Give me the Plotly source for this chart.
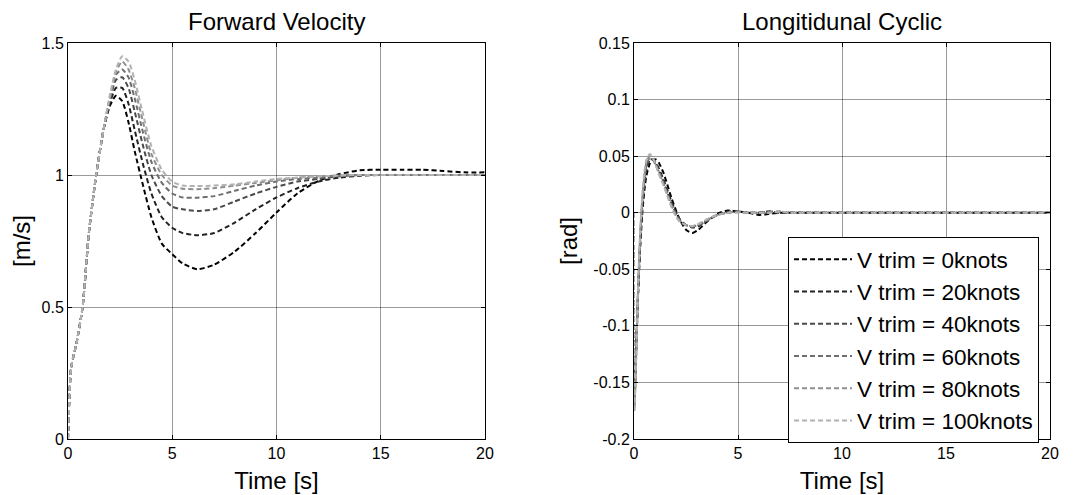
import plotly.graph_objects as go

# ---------------- data ----------------
speeds = ["0", "20", "40", "60", "80", "100"]
legend_names = ["V trim = %sknots" % s for s in speeds]
line_colors = ["#000000", "#222222", "#4a4a4a", "#6e6e6e", "#8f8f8f", "#b2b2b2"]

t_fv = [0, 0.15, 0.4, 0.7, 1.0, 1.35, 1.7, 2.0, 2.3, 2.6, 2.9, 3.2, 3.6, 4.0, 4.5,
        5.0, 5.5, 6.2, 7.0, 8.0, 9.0, 10, 11, 12, 13, 14, 15, 16, 17, 18, 19, 20]
fv_0 = [0, 0.27, 0.36, 0.5, 0.78, 1.0, 1.17, 1.26, 1.30, 1.28, 1.20, 1.09, 0.96, 0.84, 0.74,
        0.70, 0.665, 0.643, 0.66, 0.71, 0.78, 0.858, 0.93, 0.977, 1.003, 1.018, 1.02, 1.02, 1.02, 1.015, 1.01, 1.01]
fv_20 = [0, 0.27, 0.36, 0.5, 0.78, 1.0, 1.17, 1.27, 1.33, 1.33, 1.27, 1.17, 1.04, 0.93, 0.84,
         0.80, 0.78, 0.772, 0.78, 0.82, 0.87, 0.915, 0.95, 0.975, 0.99, 0.997, 1.0, 1.0, 1.0, 1.0, 1.0, 1.0]
fv_40 = [0, 0.27, 0.36, 0.5, 0.78, 1.0, 1.17, 1.28, 1.36, 1.37, 1.33, 1.24, 1.11, 1.0, 0.92,
         0.88, 0.87, 0.864, 0.87, 0.90, 0.93, 0.955, 0.975, 0.985, 0.995, 1.0, 1.0, 1.0, 1.0, 1.0, 1.0, 1.0]
fv_60 = [0, 0.27, 0.36, 0.5, 0.78, 1.0, 1.17, 1.29, 1.38, 1.40, 1.37, 1.29, 1.16, 1.05, 0.97,
         0.93, 0.915, 0.914, 0.92, 0.94, 0.96, 0.975, 0.985, 0.99, 0.997, 1.0, 1.0, 1.0, 1.0, 1.0, 1.0, 1.0]
fv_80 = [0, 0.27, 0.36, 0.5, 0.78, 1.0, 1.17, 1.29, 1.39, 1.43, 1.40, 1.33, 1.20, 1.08, 1.0,
         0.96, 0.948, 0.946, 0.95, 0.96, 0.97, 0.98, 0.99, 0.995, 0.998, 1.0, 1.0, 1.0, 1.0, 1.0, 1.0, 1.0]
fv_100 = [0, 0.27, 0.36, 0.5, 0.78, 1.0, 1.17, 1.30, 1.40, 1.45, 1.43, 1.36, 1.23, 1.11, 1.02,
          0.975, 0.96, 0.958, 0.96, 0.965, 0.975, 0.985, 0.99, 0.995, 0.998, 1.0, 1.0, 1.0, 1.0, 1.0, 1.0, 1.0]

t_lc = [0, 0.02, 0.1, 0.2, 0.3, 0.4, 0.5, 0.6, 0.75, 0.9, 1.05, 1.2, 1.4, 1.6, 1.8, 2.0,
        2.2, 2.5, 2.8, 3.1, 3.5, 4.0, 4.5, 5.0, 5.5, 6.0, 6.5, 7.0, 7.5, 8.0, 8.5, 10, 12, 14, 16, 18, 20]
lc_0 = [0, -0.16, -0.12, -0.07, -0.03, 0.0, 0.02, 0.033, 0.043, 0.047, 0.047, 0.044, 0.036, 0.025, 0.013, 0.003,
        -0.006, -0.015, -0.018, -0.015, -0.008, -0.001, 0.002, 0.001, 0.0, -0.002, -0.001, 0.0, 0.0, 0.0, 0.0, 0, 0, 0, 0, 0, 0]
lc_20 = [0, -0.17, -0.125, -0.07, -0.025, 0.005, 0.025, 0.038, 0.046, 0.047, 0.044, 0.039, 0.030, 0.020, 0.010, 0.001,
         -0.006, -0.011, -0.013, -0.012, -0.007, -0.002, 0.001, 0.001, 0.0, 0.0, 0.001, 0.0, 0.0, 0.0, 0.0, 0, 0, 0, 0, 0, 0]
lc_40 = [0, -0.17, -0.125, -0.068, -0.022, 0.008, 0.028, 0.04, 0.047, 0.047, 0.043, 0.037, 0.028, 0.018, 0.008, 0.0,
         -0.006, -0.011, -0.012, -0.011, -0.007, -0.002, 0.0, 0.001, 0.0, 0.0, 0.001, 0.0, 0.0, 0.0, 0.0, 0, 0, 0, 0, 0, 0]
lc_60 = [0, -0.172, -0.128, -0.066, -0.02, 0.01, 0.03, 0.042, 0.048, 0.047, 0.042, 0.036, 0.027, 0.017, 0.007, -0.001,
         -0.007, -0.011, -0.012, -0.011, -0.007, -0.002, 0.0, 0.001, 0.0, 0.0, 0.001, 0.001, 0.0, 0.0, 0.0, 0, 0, 0, 0, 0, 0]
lc_80 = [0, -0.174, -0.13, -0.064, -0.018, 0.013, 0.033, 0.045, 0.05, 0.048, 0.042, 0.035, 0.026, 0.016, 0.006, -0.002,
         -0.007, -0.011, -0.012, -0.01, -0.006, -0.002, 0.0, 0.001, 0.0, 0.0, 0.0, 0.001, 0.0, 0.0, 0.0, 0, 0, 0, 0, 0, 0]
lc_100 = [0, -0.176, -0.132, -0.062, -0.015, 0.016, 0.036, 0.047, 0.052, 0.049, 0.042, 0.034, 0.025, 0.015, 0.005, -0.003,
          -0.008, -0.011, -0.012, -0.01, -0.006, -0.002, 0.0, 0.0, 0.0, 0.0, 0.0, 0.001, 0.0, 0.0, 0.0, 0, 0, 0, 0, 0, 0]

fv_series = [fv_0, fv_20, fv_40, fv_60, fv_80, fv_100]
lc_series = [lc_0, lc_20, lc_40, lc_60, lc_80, lc_100]

x_ticks = [0, 5, 10, 15, 20]
fv_ticks = [0, 0.5, 1, 1.5]
fv_ticklabels = ["0", "0.5", "1", "1.5"]
lc_ticks = [-0.2, -0.15, -0.1, -0.05, 0, 0.05, 0.1, 0.15]
lc_ticklabels = ["-0.2", "-0.15", "-0.1", "-0.05", "0", "0.05", "0.1", "0.15"]

# ---------------- figure ----------------
# page has an 8px body margin, so the figure is 1072x487 and positions are page - 8
OFF = 8
W, H = 1080 - OFF, 495 - OFF
FONT = "Liberation Sans, Arial, sans-serif"


def px_x(p):
    return (p - OFF) / W


def px_y(p):
    return 1 - (p - OFF) / H


fig = go.Figure()

dash_style = "5px,3px"
for name, col, y in zip(legend_names, line_colors, fv_series):
    fig.add_trace(go.Scatter(x=t_fv, y=y, mode="lines", name=name, showlegend=False,
                             line=dict(color=col, width=2, dash=dash_style, shape="spline", smoothing=0.6),
                             xaxis="x", yaxis="y"))
for name, col, y in zip(legend_names, line_colors, lc_series):
    fig.add_trace(go.Scatter(x=t_lc, y=y, mode="lines", name=name, showlegend=True,
                             line=dict(color=col, width=2, dash=dash_style, shape="spline", smoothing=0.6),
                             xaxis="x2", yaxis="y2"))

ydom = [px_y(439), px_y(43)]
axis_common = dict(showline=True, linecolor="black", linewidth=1, mirror="ticks",
                   ticks="inside", ticklen=4, tickcolor="black", automargin=False,
                   showgrid=True, gridcolor="rgba(0,0,0,0.4)", gridwidth=1,
                   zeroline=False, tickfont=dict(family=FONT, size=16, color="black"),
                   title_font=dict(family=FONT, size=24, color="black"))

fig.update_layout(
    width=W, height=H,
    margin=dict(l=0, r=0, t=0, b=0),
    paper_bgcolor="white", plot_bgcolor="white",
    font=dict(family=FONT, color="black"),
    xaxis=dict(domain=[px_x(68), px_x(485)], range=[0, 20], tickvals=x_ticks,
               title=dict(text="Time [s]", standoff=10), anchor="y", **axis_common),
    yaxis=dict(domain=ydom, range=[0, 1.5], tickvals=fv_ticks, ticktext=fv_ticklabels,
               title=dict(text="[m/s]", standoff=10), anchor="x", **axis_common),
    xaxis2=dict(domain=[px_x(634), px_x(1050)], range=[0, 20], tickvals=x_ticks,
                title=dict(text="Time [s]", standoff=10), anchor="y2", **axis_common),
    yaxis2=dict(domain=ydom, range=[-0.2, 0.15], tickvals=lc_ticks, ticktext=lc_ticklabels,
                title=dict(text="[rad]", standoff=8), anchor="x2", **axis_common),
    legend=dict(x=px_x(788), y=px_y(237), xanchor="left", yanchor="top",
                bgcolor="white", bordercolor="black", borderwidth=1,
                font=dict(family=FONT, size=22.5, color="black"),
                itemwidth=58, tracegroupgap=0),
    annotations=[
        dict(text="Forward Velocity", x=px_x((68 + 485) / 2), y=px_y(22), xref="paper", yref="paper",
             showarrow=False, font=dict(family=FONT, size=24, color="black"), xanchor="center", yanchor="middle"),
        dict(text="Longitidunal Cyclic", x=px_x((634 + 1050) / 2), y=px_y(22), xref="paper", yref="paper",
             showarrow=False, font=dict(family=FONT, size=24, color="black"), xanchor="center", yanchor="middle"),
    ],
)

fig.write_html("out.html")
